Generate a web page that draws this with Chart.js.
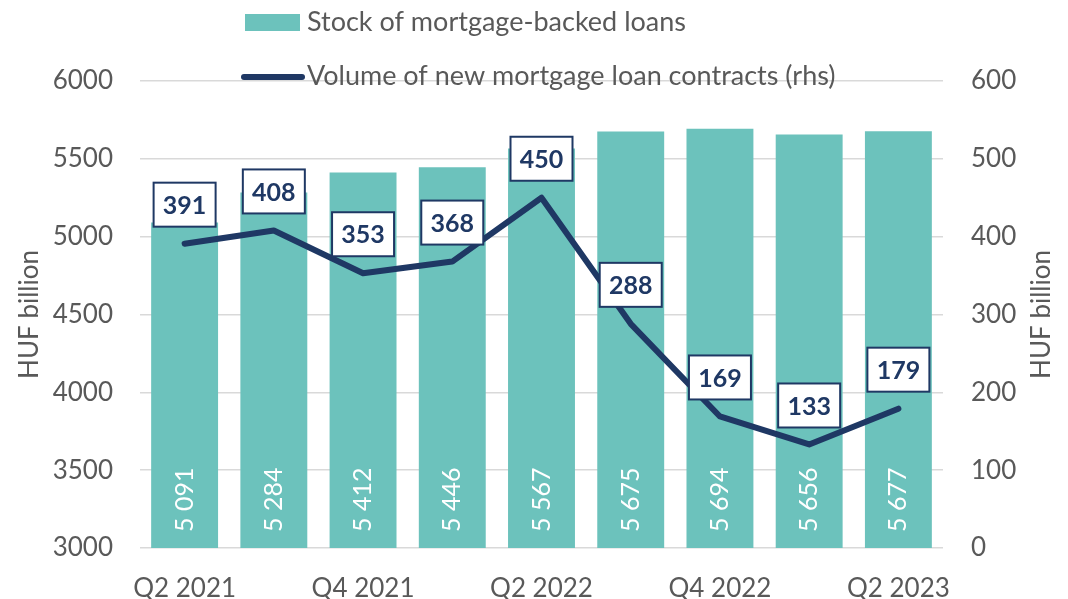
<!DOCTYPE html>
<html lang="en">
<head>
    <meta charset="UTF-8">
    <title>Mortgage-backed loans</title>
    <style>
        body {
            margin: 0;
            padding: 0;
            background-color: #ffffff;
        }

        .chart-box {
            width: 1068px;
            height: 599px;
        }
    </style>
    <script src="https://cdn.jsdelivr.net/npm/chart.js"></script>
</head>
<body>
    <div class="chart-box">
        <canvas id="mortgageChart" width="1068" height="599"></canvas>
    </div>

    <script>
        // Chart data
        const quarters = ['Q2 2021', 'Q3 2021', 'Q4 2021', 'Q1 2022', 'Q2 2022', 'Q3 2022', 'Q4 2022', 'Q1 2023', 'Q2 2023'];
        const loanStock = [5091, 5284, 5412, 5446, 5567, 5675, 5694, 5656, 5677];
        const newContracts = [391, 408, 353, 368, 450, 288, 169, 133, 179];
        const stockLabel = 'Stock of mortgage-backed loans';
        const contractsLabel = 'Volume of new mortgage loan contracts (rhs)';
        const axisTitle = 'HUF billion';

        const TEAL = '#6cc2bc';
        const NAVY = '#1f3864';
        const GREY = '#595959';
        const FONT = 'Lato, "Open Sans", sans-serif';

        // 5091 -> "5 091"
        function spaced(v) {
            return String(v).replace(/\B(?=(\d{3})+(?!\d))/g, ' ');
        }

        // Draws value labels, legend and axis titles on top of the chart
        const overlayPlugin = {
            id: 'overlay',
            afterDatasetsDraw(chart) {
                const ctx = chart.ctx;
                const bars = chart.getDatasetMeta(0).data;
                const points = chart.getDatasetMeta(1).data;
                const area = chart.chartArea;

                // bar labels, rotated, at the bottom of each bar
                ctx.save();
                ctx.fillStyle = '#ffffff';
                ctx.font = '25px ' + FONT;
                ctx.textAlign = 'left';
                ctx.textBaseline = 'middle';
                bars.forEach((bar, i) => {
                    ctx.save();
                    ctx.translate(bar.x, area.bottom - 16);
                    ctx.rotate(-Math.PI / 2);
                    ctx.fillText(spaced(loanStock[i]), 0, 0);
                    ctx.restore();
                });
                ctx.restore();

                // boxed labels above the line points
                ctx.save();
                ctx.font = 'bold 25px ' + FONT;
                ctx.textAlign = 'center';
                ctx.textBaseline = 'middle';
                points.forEach((pt, i) => {
                    const w = 62, h = 44;
                    const cy = pt.y - 39;
                    ctx.fillStyle = '#ffffff';
                    ctx.fillRect(pt.x - w / 2, cy - h / 2, w, h);
                    ctx.strokeStyle = NAVY;
                    ctx.lineWidth = 2;
                    ctx.strokeRect(pt.x - w / 2, cy - h / 2, w, h);
                    ctx.fillStyle = NAVY;
                    ctx.fillText(String(newContracts[i]), pt.x, cy + 1);
                });
                ctx.restore();
            },
            afterDraw(chart) {
                const ctx = chart.ctx;
                const area = chart.chartArea;
                const midY = (area.top + area.bottom) / 2;

                ctx.save();
                // legend
                ctx.fillStyle = TEAL;
                ctx.fillRect(245, 14, 55, 17);
                ctx.strokeStyle = NAVY;
                ctx.lineWidth = 6;
                ctx.lineCap = 'round';
                ctx.beginPath();
                ctx.moveTo(244, 77);
                ctx.lineTo(302, 77);
                ctx.stroke();

                ctx.fillStyle = GREY;
                ctx.font = '27px ' + FONT;
                ctx.textAlign = 'left';
                ctx.textBaseline = 'middle';
                ctx.fillText(stockLabel, 307, 22);
                ctx.fillText(contractsLabel, 307, 76);

                // axis titles, both reading bottom to top
                ctx.font = '26px ' + FONT;
                ctx.textAlign = 'center';
                [30, 1042].forEach(x => {
                    ctx.save();
                    ctx.translate(x, midY);
                    ctx.rotate(-Math.PI / 2);
                    ctx.fillText(axisTitle, 0, 0);
                    ctx.restore();
                });
                ctx.restore();
            }
        };

        const ctx = document.getElementById('mortgageChart').getContext('2d');
        new Chart(ctx, {
            type: 'bar',
            data: {
                labels: quarters,
                datasets: [
                    {
                        type: 'bar',
                        label: stockLabel,
                        data: loanStock,
                        backgroundColor: TEAL,
                        categoryPercentage: 1,
                        barPercentage: 0.75,
                        yAxisID: 'y',
                        order: 2
                    },
                    {
                        type: 'line',
                        label: contractsLabel,
                        data: newContracts,
                        borderColor: NAVY,
                        borderWidth: 6,
                        borderJoinStyle: 'round',
                        borderCapStyle: 'round',
                        pointRadius: 0,
                        tension: 0,
                        yAxisID: 'y1',
                        order: 1
                    }
                ]
            },
            options: {
                responsive: false,
                animation: false,
                layout: {
                    padding: { top: 81, left: 0, right: 0, bottom: 0 }
                },
                plugins: {
                    legend: { display: false },
                    tooltip: { enabled: false }
                },
                scales: {
                    x: {
                        grid: { display: false },
                        border: { display: false },
                        ticks: {
                            color: GREY,
                            font: { family: FONT, size: 26 },
                            padding: 17,
                            maxRotation: 0,
                            autoSkip: false,
                            callback: function (value, index) {
                                return index % 2 === 0 ? this.getLabelForValue(value) : '';
                            }
                        },
                        afterFit: axis => { axis.height = 51; }
                    },
                    y: {
                        position: 'left',
                        min: 3000,
                        max: 6000,
                        grid: { color: '#d9d9d9', lineWidth: 1.5, drawTicks: false },
                        border: { display: false },
                        ticks: {
                            stepSize: 500,
                            color: GREY,
                            font: { family: FONT, size: 26 },
                            padding: 27,
                            callback: value => String(value)
                        },
                        afterFit: axis => { axis.width = 140; }
                    },
                    y1: {
                        position: 'right',
                        min: 0,
                        max: 600,
                        grid: { display: false, drawTicks: false },
                        border: { display: false },
                        ticks: {
                            stepSize: 100,
                            color: GREY,
                            font: { family: FONT, size: 26 },
                            padding: 28,
                            callback: value => String(value)
                        },
                        afterFit: axis => { axis.width = 125; }
                    }
                }
            },
            plugins: [overlayPlugin]
        });
    </script>
</body>
</html>
